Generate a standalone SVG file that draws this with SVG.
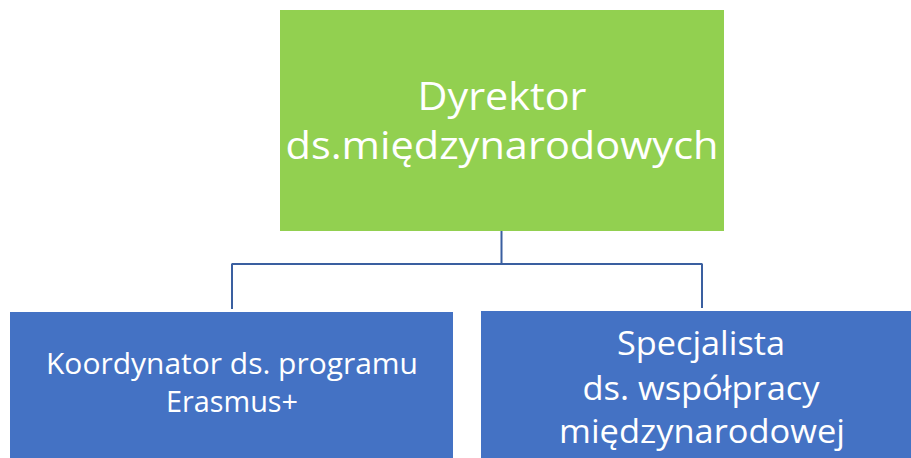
<svg xmlns="http://www.w3.org/2000/svg" width="911" height="458" viewBox="0 0 911 458">
<style>
.lbl{font-family:"Open Sans","Liberation Sans",sans-serif;fill:#ffffff;text-anchor:middle}
.conn{fill:none;stroke:#3A5FA0;stroke-width:2}
</style>
<rect width="911" height="458" fill="#ffffff"/>
<g id="connectors">
<path class="conn" d="M501.5,231 V264 M232,264 H702 M232,263.5 V309 M702,263.5 V308"/>
</g>
<g id="dyrektor">
<rect x="280" y="10" width="444" height="221" fill="#92D050"/>
<text class="lbl" x="502" y="110" font-size="39" textLength="169" lengthAdjust="spacingAndGlyphs">Dyrektor</text>
<text class="lbl" x="502" y="159" font-size="39" textLength="433" lengthAdjust="spacingAndGlyphs">ds.międzynarodowych</text>
</g>
<g id="koordynator">
<rect x="10" y="312" width="443" height="146" fill="#4472C4"/>
<text class="lbl" x="232" y="374" font-size="29" textLength="372" lengthAdjust="spacingAndGlyphs">Koordynator ds. programu</text>
<text class="lbl" x="232" y="412" font-size="29" textLength="132" lengthAdjust="spacingAndGlyphs">Erasmus+</text>
</g>
<g id="specjalista">
<rect x="481" y="311" width="440" height="147" fill="#4472C4"/>
<text class="lbl" x="701" y="355" font-size="32" textLength="168" lengthAdjust="spacingAndGlyphs">Specjalista</text>
<text class="lbl" x="701" y="400" font-size="32" textLength="237" lengthAdjust="spacingAndGlyphs">ds. współpracy</text>
<text class="lbl" x="702" y="443" font-size="32" textLength="286" lengthAdjust="spacingAndGlyphs">międzynarodowej</text>
</g>
</svg>
